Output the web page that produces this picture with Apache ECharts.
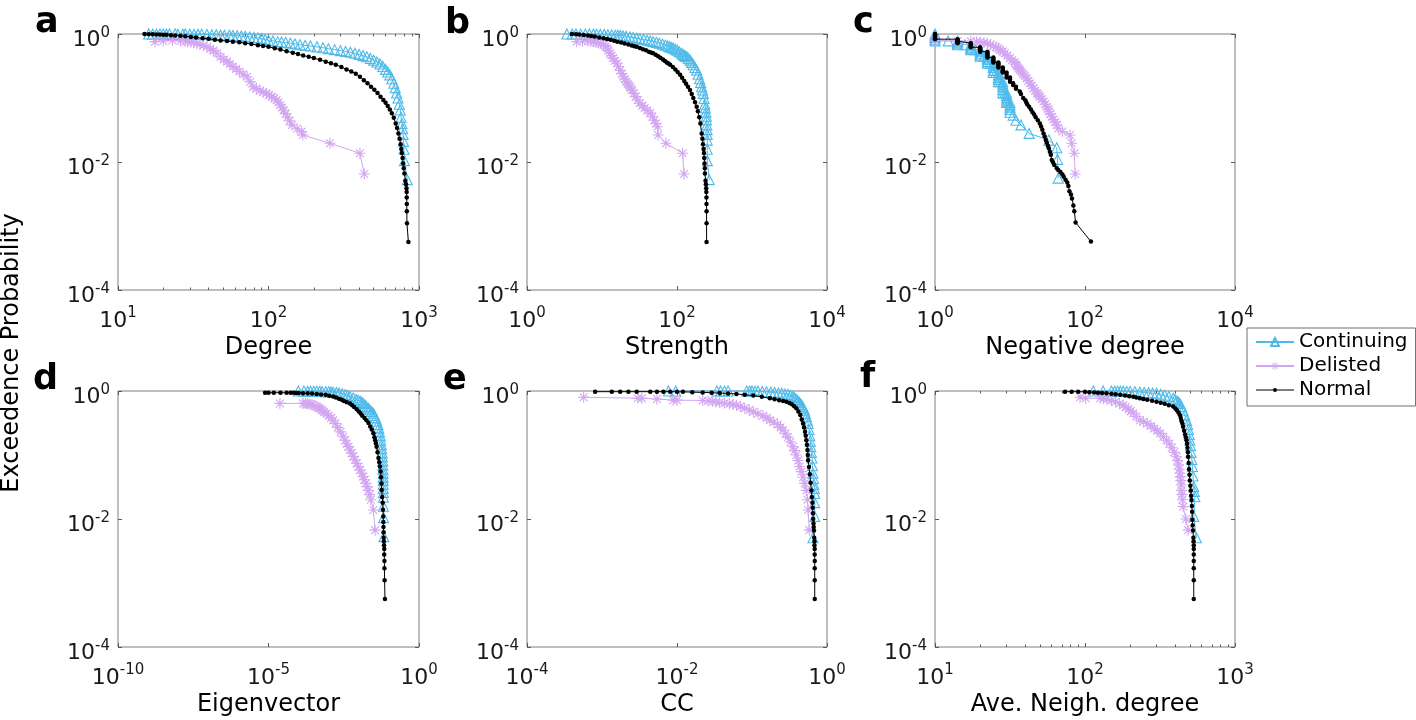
<!DOCTYPE html>
<html><head><meta charset="utf-8">
<script src="https://cdn.jsdelivr.net/npm/echarts@6/dist/echarts.min.js"></script>
<style>html,body{margin:0;padding:0;background:#fff}#c{width:1416px;height:720px}</style>
</head><body><div id="c"></div>
<script>
// ---------------- DATA ----------------
const seriesNames = ['Continuing', 'Delisted', 'Normal'];
const yTicks = [1e-4, 1e-2, 1];

// a: Degree
const degreeTicks = [10, 100, 1000];
const degreeMinor = [20,30,40,50,60,70,80,90,200,300,400,500,600,700,800,900];
const degreeContinuing = [[16,1.0],[17,0.99],[18,0.99],[19,1.0],[20,1.0],[21,0.99],[22,1.0],[24,1.0],[25,0.99],[27,0.99],[28,1.0],[30,0.99],[32,0.98],[34,0.99],[36,0.99],[39,0.98],[42,0.97],[45,0.97],[48,0.96],[51,0.96],[55,0.96],[58,0.95],[62,0.94],[66,0.93],[70,0.92],[75,0.9],[80,0.88],[85,0.87],[90,0.85],[95,0.82],[100,0.8],[107,0.78],[115,0.76],[122,0.75],[130,0.74],[140,0.72],[150,0.7],[162,0.68],[175,0.66],[190,0.65],[210,0.63],[230,0.61],[250,0.59],[275,0.57],[300,0.55],[325,0.535],[350,0.52],[375,0.5],[400,0.48],[425,0.46],[450,0.44],[475,0.415],[500,0.39],[525,0.365],[550,0.34],[575,0.31],[600,0.28],[620,0.255],[640,0.23],[660,0.2],[680,0.17],[695,0.145],[710,0.12],[725,0.1],[740,0.08],[750,0.065],[760,0.05],[770,0.04],[780,0.033],[785,0.027],[790,0.021],[795,0.0158],[800,0.0105],[836,0.0053]];
const degreeDelisted = [[17.6,0.76],[20,0.78],[23,0.79],[26,0.78],[28,0.77],[29,0.76],[30.5,0.75],[32,0.73],[33.5,0.71],[35,0.69],[37,0.66],[39,0.63],[41,0.59],[43,0.55],[45.5,0.5],[48,0.44],[50.5,0.4],[53,0.37],[55.5,0.34],[58,0.31],[61,0.285],[64,0.26],[68,0.235],[72,0.215],[75.5,0.18],[79,0.15],[83,0.14],[88,0.13],[92,0.124],[97,0.118],[101,0.111],[105,0.105],[109,0.099],[113,0.093],[116.5,0.085],[120,0.078],[123,0.071],[126,0.065],[130,0.057],[134,0.05],[138,0.044],[143,0.038],[155,0.033],[166,0.0298],[169,0.0264],[256,0.0196],[405,0.0137],[433,0.0065]];
const degreeNormal = [[15,1.0],[16,0.995],[17,0.99],[18,0.985],[19,0.98],[20,0.975],[21,0.97],[22.5,0.96],[24,0.95],[26,0.935],[28,0.92],[30.5,0.9],[33,0.88],[36.5,0.86],[40,0.84],[44,0.815],[48,0.79],[53,0.775],[58,0.76],[64,0.74],[70,0.72],[77,0.695],[85,0.67],[92,0.65],[100,0.63],[110,0.6],[120,0.57],[132,0.54],[145,0.51],[157,0.485],[170,0.46],[185,0.44],[200,0.42],[220,0.395],[240,0.37],[260,0.35],[280,0.33],[305,0.305],[330,0.28],[355,0.26],[380,0.24],[405,0.215],[430,0.19],[455,0.17],[480,0.15],[505,0.135],[530,0.12],[555,0.105],[580,0.093],[600,0.084],[620,0.075],[640,0.066],[660,0.058],[680,0.049],[700,0.04],[715,0.034],[730,0.028],[743,0.023],[755,0.019],[763,0.016],[770,0.0138],[778,0.0115],[785,0.0095],[792,0.008],[800,0.0066],[812,0.0051],[820,0.0045],[826,0.0039],[828,0.0034],[829,0.0028],[830,0.0022],[830,0.0017],[832,0.0011],[850,0.00056]];

// b: Strength
const strengthTicks = [1, 100, 10000];
const strengthContinuing = [[3.4,1.0],[4,1.0],[4.5,1.0],[5.2,0.99],[6,0.99],[6.8,1.0],[7.7,1.0],[8.5,0.99],[9.5,0.98],[10.7,0.98],[12,0.97],[13.5,0.965],[15,0.96],[16.2,0.955],[17.5,0.95],[19,0.935],[21,0.92],[23.5,0.9],[26,0.88],[29,0.86],[32,0.84],[36,0.82],[40,0.8],[44,0.78],[48,0.76],[53,0.74],[58,0.72],[64,0.695],[70,0.67],[75,0.65],[80,0.63],[85,0.615],[89,0.6],[95,0.58],[100,0.56],[107,0.53],[115,0.5],[120,0.48],[125,0.46],[130,0.45],[135,0.44],[142,0.415],[150,0.39],[157,0.36],[165,0.33],[174,0.3],[183,0.274],[191,0.235],[200,0.2],[207,0.175],[213,0.15],[219,0.133],[224,0.118],[230,0.098],[235,0.08],[239,0.07],[243,0.06],[246,0.052],[248,0.0455],[250,0.038],[252,0.032],[253,0.027],[253,0.022],[253,0.0158],[254,0.0105],[269,0.0053]];
const strengthDelisted = [[4.6,0.76],[5.5,0.77],[6.5,0.78],[7.1,0.77],[7.7,0.76],[8.3,0.745],[9,0.73],[9.7,0.71],[10.5,0.68],[11.1,0.64],[11.7,0.6],[12.2,0.55],[12.8,0.5],[13.4,0.46],[14,0.42],[14.8,0.38],[15.8,0.35],[16.6,0.31],[17.5,0.27],[18.4,0.24],[19.3,0.215],[20.1,0.197],[21,0.18],[22,0.167],[23,0.155],[24,0.144],[25,0.133],[26.5,0.118],[28,0.105],[30,0.093],[32,0.083],[34.5,0.076],[37,0.07],[40,0.064],[44,0.058],[47,0.051],[50,0.045],[52.5,0.04],[55,0.0356],[56,0.0264],[71,0.0196],[119,0.0137],[124,0.0065]];
const strengthNormal = [[3.97,1.0],[4.5,0.99],[5,0.98],[5.7,0.965],[6.5,0.95],[7.2,0.93],[8,0.91],[9.2,0.885],[10.5,0.86],[11.7,0.835],[13,0.81],[14.5,0.785],[16,0.76],[18,0.735],[20,0.71],[22.5,0.685],[25,0.66],[27,0.645],[29,0.63],[32,0.605],[35,0.58],[38.5,0.555],[42,0.53],[45,0.515],[48,0.5],[52,0.475],[56,0.45],[60,0.425],[65,0.4],[69,0.38],[73,0.36],[77,0.345],[81,0.33],[88,0.305],[95,0.28],[102,0.255],[110,0.23],[117,0.207],[125,0.185],[132,0.167],[140,0.15],[149,0.133],[157,0.115],[165,0.1],[174,0.086],[183,0.073],[190,0.062],[198,0.05],[205,0.04],[213,0.028],[218,0.023],[222,0.019],[226,0.016],[229,0.0138],[231,0.0115],[233,0.0095],[235,0.008],[236,0.0066],[240,0.0051],[243,0.0045],[245,0.0039],[246,0.0034],[247,0.0028],[247.5,0.0022],[248,0.0017],[248,0.0011],[248,0.00056]];

// c: Negative degree
const negDegreeTicks = [1, 100, 10000];
const negDegreeContinuing = [[1,1.0],[1,0.94],[1,0.88],[1,0.83],[1,0.78],[1.5,0.78],[2,0.78],[2,0.75],[2,0.72],[2,0.68],[2.5,0.68],[3,0.68],[3,0.65],[3,0.62],[3,0.6],[3,0.57],[3.5,0.57],[4,0.57],[4,0.54],[4,0.5],[4,0.47],[4,0.45],[4.5,0.45],[5,0.45],[5,0.42],[5,0.4],[5,0.37],[5,0.35],[5.5,0.35],[6,0.35],[6,0.32],[6,0.3],[6,0.27],[6,0.25],[6.5,0.25],[7,0.25],[7,0.23],[7,0.21],[7,0.195],[7,0.18],[7.5,0.18],[8,0.18],[8,0.165],[8,0.15],[8,0.135],[8,0.12],[8.5,0.12],[9,0.12],[9,0.11],[9,0.1],[9,0.092],[9,0.085],[9.5,0.085],[10,0.085],[10,0.078],[10,0.072],[10,0.066],[10,0.06],[11,0.054],[12,0.045],[14,0.038],[18,0.028],[33,0.022],[42,0.0167],[43,0.011],[44,0.0056]];
const negDegreeDelisted = [[1,0.8],[2,0.78],[3,0.77],[3.6,0.76],[4,0.75],[4.5,0.73],[5,0.715],[5.5,0.68],[6,0.65],[6.5,0.625],[7,0.6],[7.4,0.56],[8,0.53],[8.5,0.5],[9.2,0.46],[10,0.42],[10.7,0.39],[11.5,0.36],[12,0.335],[12.5,0.31],[13,0.29],[13.6,0.274],[14.3,0.255],[15,0.235],[15.8,0.22],[16.7,0.203],[17.6,0.185],[18.5,0.17],[19.5,0.155],[20.5,0.142],[21.7,0.13],[23,0.12],[24,0.112],[25,0.105],[26.5,0.096],[28,0.088],[29.5,0.08],[31,0.073],[32,0.067],[33,0.062],[34.5,0.056],[36,0.051],[38,0.046],[40,0.042],[42,0.038],[44,0.0336],[50,0.03],[63,0.0264],[66.5,0.0196],[72,0.0137],[74,0.0065]];
const negDegreeNormal = [[1,1.0],[1,0.95],[1,0.9],[1,0.86],[1,0.83],[2,0.83],[2,0.8],[2,0.77],[2,0.745],[2,0.72],[3,0.72],[3,0.695],[3,0.67],[3,0.645],[3,0.62],[4,0.62],[4,0.595],[4,0.57],[4,0.55],[4,0.53],[5,0.53],[5,0.505],[5,0.48],[5,0.455],[5,0.43],[6,0.43],[6,0.41],[6,0.39],[6,0.375],[6,0.36],[7,0.36],[7,0.345],[7,0.33],[7,0.315],[7,0.3],[8,0.3],[8,0.285],[8,0.27],[8,0.26],[8,0.25],[9,0.25],[9,0.23],[9,0.21],[10,0.21],[10,0.195],[10,0.18],[11,0.17],[11,0.16],[12,0.15],[12,0.14],[13.5,0.126],[14,0.115],[15,0.1],[16,0.092],[16.5,0.085],[17,0.079],[18,0.073],[19,0.066],[20,0.06],[21,0.055],[22,0.05],[23.5,0.045],[25,0.04],[26,0.036],[27,0.032],[28,0.028],[29,0.025],[30,0.022],[31,0.02],[32,0.018],[33,0.0164],[34,0.0145],[35,0.013],[36,0.0107],[37.5,0.0098],[39,0.009],[42,0.008],[44,0.0075],[47,0.007],[50,0.0064],[52,0.0059],[55,0.0053],[58,0.0048],[60,0.0042],[62,0.0035],[65,0.0031],[67,0.0027],[70,0.0021],[72,0.0017],[75,0.00113],[120,0.00057]];

// d: Eigenvector
const eigenTicks = [1e-10, 1e-5, 1];
const eigenContinuing = [[9.8e-5,1.0],[1.5e-4,1.0],[2e-4,0.995],[2.5e-4,0.99],[3.2e-4,0.99],[4e-4,0.99],[5e-4,0.985],[6e-4,0.98],[8e-4,0.975],[1e-3,0.97],[1.2e-3,0.965],[1.4e-3,0.96],[1.8e-3,0.945],[2.2e-3,0.93],[2.8e-3,0.905],[3.5e-3,0.88],[4.2e-3,0.85],[5.1e-3,0.82],[6.5e-3,0.78],[8e-3,0.74],[9.5e-3,0.715],[1.1e-2,0.69],[1.25e-2,0.665],[1.4e-2,0.64],[1.6e-2,0.605],[1.8e-2,0.57],[2.05e-2,0.54],[2.3e-2,0.51],[2.65e-2,0.48],[3.05e-2,0.45],[3.3e-2,0.415],[3.6e-2,0.38],[3.95e-2,0.34],[4.3e-2,0.3],[4.6e-2,0.265],[4.9e-2,0.23],[5.15e-2,0.2],[5.4e-2,0.17],[5.6e-2,0.145],[5.8e-2,0.125],[6e-2,0.108],[6.1e-2,0.094],[6.2e-2,0.081],[6.3e-2,0.07],[6.35e-2,0.06],[6.4e-2,0.052],[6.45e-2,0.045],[6.5e-2,0.04],[6.5e-2,0.035],[6.5e-2,0.03],[6.55e-2,0.026],[6.6e-2,0.022],[6.6e-2,0.0158],[6.7e-2,0.0105],[6.8e-2,0.0053]];
const eigenDelisted = [[2.4e-5,0.64],[1.4e-4,0.64],[1.7e-4,0.635],[2e-4,0.63],[2.4e-4,0.62],[2.8e-4,0.61],[3.4e-4,0.59],[4e-4,0.57],[4.7e-4,0.545],[5.5e-4,0.52],[6.2e-4,0.495],[7e-4,0.47],[8.5e-4,0.44],[1e-3,0.41],[1.2e-3,0.38],[1.4e-3,0.35],[1.7e-3,0.31],[2e-3,0.27],[2.5e-3,0.23],[3.05e-3,0.193],[3.5e-3,0.17],[4e-3,0.15],[4.5e-3,0.135],[5.1e-3,0.12],[5.8e-3,0.107],[6.5e-3,0.095],[7.5e-3,0.084],[8.5e-3,0.074],[9.7e-3,0.066],[1.1e-2,0.058],[1.25e-2,0.052],[1.4e-2,0.046],[1.55e-2,0.041],[1.7e-2,0.036],[1.9e-2,0.032],[2.07e-2,0.028],[2.3e-2,0.024],[2.5e-2,0.02],[3.05e-2,0.0138],[3.47e-2,0.0067]];
const eigenNormal = [[7.7e-6,0.94],[1e-5,0.94],[1.5e-5,0.94],[2.5e-5,0.94],[4e-5,0.94],[5.5e-5,0.937],[7e-5,0.935],[8.5e-5,0.933],[1e-4,0.93],[1.4e-4,0.925],[2e-4,0.92],[2.8e-4,0.91],[4e-4,0.9],[5.6e-4,0.885],[8e-4,0.87],[1.05e-3,0.845],[1.4e-3,0.82],[1.75e-3,0.79],[2.2e-3,0.76],[2.7e-3,0.73],[3.2e-3,0.7],[4e-3,0.67],[5.1e-3,0.64],[6e-3,0.6],[7e-3,0.56],[8.5e-3,0.52],[1e-2,0.48],[1.15e-2,0.445],[1.3e-2,0.41],[1.55e-2,0.38],[1.8e-2,0.35],[2.1e-2,0.315],[2.4e-2,0.28],[2.7e-2,0.25],[3.05e-2,0.218],[3.3e-2,0.19],[3.5e-2,0.17],[3.7e-2,0.152],[3.9e-2,0.135],[4.2e-2,0.11],[4.5e-2,0.09],[4.8e-2,0.077],[5.06e-2,0.066],[5.3e-2,0.055],[5.5e-2,0.045],[5.65e-2,0.036],[5.75e-2,0.0284],[6e-2,0.022],[6.2e-2,0.018],[6.35e-2,0.014],[6.5e-2,0.0109],[6.55e-2,0.009],[6.6e-2,0.0075],[6.65e-2,0.0062],[6.7e-2,0.0051],[6.8e-2,0.0045],[6.9e-2,0.0039],[7e-2,0.0034],[7e-2,0.0028],[7.1e-2,0.0022],[7.1e-2,0.0017],[7.2e-2,0.0011],[7.4e-2,0.00056]];

// e: CC
const ccTicks = [1e-4, 1e-2, 1];
const ccContinuing = [[7.7e-3,1.0],[9.6e-3,1.0],[3.4e-2,1.0],[3.8e-2,1.0],[4.3e-2,1.0],[4.8e-2,1.0],[8.5e-2,1.0],[0.093,1.0],[0.1,1.0],[0.11,0.995],[0.12,0.99],[0.137,0.98],[0.156,0.97],[0.178,0.96],[0.2,0.95],[0.225,0.935],[0.25,0.92],[0.275,0.9],[0.3,0.88],[0.325,0.85],[0.35,0.82],[0.37,0.78],[0.39,0.74],[0.41,0.7],[0.43,0.66],[0.45,0.62],[0.47,0.58],[0.485,0.54],[0.5,0.5],[0.515,0.45],[0.53,0.4],[0.545,0.35],[0.56,0.31],[0.575,0.25],[0.59,0.2],[0.6,0.165],[0.61,0.135],[0.62,0.11],[0.63,0.09],[0.64,0.068],[0.65,0.052],[0.66,0.043],[0.67,0.035],[0.68,0.03],[0.686,0.025],[0.686,0.018],[0.686,0.011],[0.65,0.0051]];
const ccDelisted = [[5.7e-4,0.8],[3e-3,0.77],[3.4e-3,0.77],[5.4e-3,0.75],[8.9e-3,0.72],[1e-2,0.72],[2.2e-2,0.71],[2.6e-2,0.7],[3e-2,0.69],[3.3e-2,0.675],[3.7e-2,0.66],[4.3e-2,0.645],[5e-2,0.63],[5.6e-2,0.615],[6.2e-2,0.6],[7e-2,0.57],[8e-2,0.54],[9.2e-2,0.505],[0.104,0.475],[0.12,0.44],[0.14,0.41],[0.157,0.38],[0.173,0.35],[0.195,0.325],[0.22,0.3],[0.24,0.27],[0.26,0.246],[0.28,0.215],[0.3,0.19],[0.325,0.16],[0.353,0.135],[0.37,0.117],[0.39,0.1],[0.41,0.082],[0.433,0.066],[0.455,0.055],[0.48,0.045],[0.505,0.036],[0.53,0.028],[0.55,0.02],[0.56,0.0138],[0.58,0.0067]];
const ccNormal = [[8.1e-4,0.976],[1.35e-3,0.976],[1.75e-3,0.976],[2.25e-3,0.976],[2.9e-3,0.976],[4.4e-3,0.976],[5.4e-3,0.976],[6.6e-3,0.976],[8.1e-3,0.975],[1e-2,0.972],[1.2e-2,0.97],[1.6e-2,0.96],[2.2e-2,0.95],[2.9e-2,0.94],[3.7e-2,0.93],[4.8e-2,0.915],[6.2e-2,0.9],[8e-2,0.875],[0.104,0.85],[0.135,0.81],[0.173,0.77],[0.2,0.745],[0.23,0.72],[0.26,0.7],[0.288,0.68],[0.315,0.65],[0.34,0.62],[0.365,0.58],[0.39,0.54],[0.415,0.48],[0.44,0.42],[0.46,0.36],[0.48,0.31],[0.495,0.27],[0.51,0.23],[0.52,0.2],[0.53,0.17],[0.54,0.145],[0.55,0.12],[0.555,0.1],[0.56,0.083],[0.575,0.065],[0.59,0.05],[0.605,0.037],[0.62,0.028],[0.63,0.022],[0.64,0.018],[0.645,0.015],[0.65,0.0123],[0.655,0.01],[0.66,0.0085],[0.665,0.0075],[0.67,0.0066],[0.675,0.0051],[0.68,0.0045],[0.68,0.0039],[0.685,0.0034],[0.685,0.0028],[0.686,0.0022],[0.686,0.0017],[0.686,0.0011],[0.686,0.00056]];

// f: Ave. Neigh. degree
const avgNeighTicks = [10, 100, 1000];
const avgNeighMinor = [20,30,40,50,60,70,80,90,200,300,400,500,600,700,800,900];
const avgNeighContinuing = [[113.6,1.0],[132,1.0],[150,1.0],[158,0.995],[165,0.99],[172,0.99],[180,0.99],[190,0.985],[200,0.98],[215,0.97],[232,0.96],[248,0.95],[265,0.94],[282,0.93],[300,0.92],[320,0.89],[340,0.86],[362,0.82],[387,0.77],[398,0.735],[410,0.7],[420,0.67],[429,0.64],[440,0.57],[450,0.5],[462,0.42],[475,0.35],[483,0.3],[490,0.25],[495,0.21],[500,0.17],[505,0.14],[510,0.11],[515,0.085],[520,0.066],[525,0.047],[531,0.032],[536,0.027],[540,0.0223],[531,0.011],[553,0.0051]];
const avgNeighDelisted = [[92.7,0.8],[101,0.77],[126,0.77],[133,0.755],[140,0.74],[150,0.71],[160,0.68],[170,0.64],[180,0.6],[187,0.56],[195,0.52],[202,0.485],[210,0.45],[220,0.4],[232,0.35],[245,0.33],[260,0.31],[275,0.285],[290,0.26],[303,0.24],[317,0.218],[333,0.193],[350,0.17],[365,0.15],[380,0.13],[394,0.11],[408,0.094],[414,0.082],[420,0.07],[425,0.06],[429,0.052],[432,0.046],[435,0.04],[438,0.034],[440,0.028],[443,0.024],[446,0.02],[451,0.0156],[470,0.01],[487,0.0067]];
const avgNeighNormal = [[73.6,0.976],[81.5,0.976],[90,0.975],[100,0.97],[107,0.96],[115,0.95],[122,0.94],[130,0.93],[139,0.92],[150,0.905],[160,0.89],[172,0.87],[185,0.85],[197,0.83],[210,0.81],[220,0.79],[232,0.77],[245,0.75],[260,0.73],[280,0.705],[300,0.68],[320,0.655],[340,0.63],[362,0.6],[387,0.57],[400,0.535],[410,0.5],[420,0.46],[429,0.42],[435,0.38],[440,0.34],[446,0.31],[451,0.277],[458,0.24],[465,0.21],[470,0.19],[475,0.17],[479,0.15],[482,0.13],[485,0.11],[487,0.094],[491,0.075],[494,0.06],[497,0.049],[500,0.04],[504,0.033],[507,0.028],[510,0.023],[513,0.0198],[516,0.016],[518,0.013],[520,0.0097],[522,0.008],[525,0.0066],[528,0.0051],[530,0.0045],[531,0.0039],[531,0.0034],[531,0.0028],[531,0.0022],[531,0.0017],[531,0.0011],[531,0.00056]];

const panels = [
  {letter:'a', name:'Degree', ticks:degreeTicks, minor:degreeMinor, c:degreeContinuing, d:degreeDelisted, n:degreeNormal},
  {letter:'b', name:'Strength', ticks:strengthTicks, minor:null, c:strengthContinuing, d:strengthDelisted, n:strengthNormal},
  {letter:'c', name:'Negative degree', ticks:negDegreeTicks, minor:null, c:negDegreeContinuing, d:negDegreeDelisted, n:negDegreeNormal},
  {letter:'d', name:'Eigenvector', ticks:eigenTicks, minor:null, c:eigenContinuing, d:eigenDelisted, n:eigenNormal},
  {letter:'e', name:'CC', ticks:ccTicks, minor:null, c:ccContinuing, d:ccDelisted, n:ccNormal},
  {letter:'f', name:'Ave. Neigh. degree', ticks:avgNeighTicks, minor:avgNeighMinor, c:avgNeighContinuing, d:avgNeighDelisted, n:avgNeighNormal}
];

// ---------------- LAYOUT / STYLE ----------------
const FONT = 'DejaVu Sans';
const BLUE = '#4DBAEA';
const LILAC = '#D3A6F2';
const BOX = '#7f7f7f';
const TICK = '#5a5a5a';
const layout = [
  {left:118, top:34, width:301}, {left:527, top:34, width:300}, {left:935, top:34, width:300},
  {left:118, top:391, width:301}, {left:527, top:391, width:300}, {left:935, top:391, width:300}
];
const letterPos = [[35,23],[445,23.5],[853,22.5],[33,379.5],[443,379.5],[860,377.5]];
const PH = 256;
const STAR = 'path://M9 0L11 0L11 20L9 20Z M0 9L20 9L20 11L0 11Z M3.64 2.22L17.78 16.36L16.36 17.78L2.22 3.64Z M17.78 3.64L3.64 17.78L2.22 16.36L16.36 2.22Z';
const NORMAL_ICON = 'path://M0 4.5L38 4.5L38 5.5L0 5.5Z M21 5A2 2 0 1 1 17 5A2 2 0 1 1 21 5Z';

const rich = {
  b: {fontFamily:FONT, fontSize:22, color:'#1a1a1a', lineHeight:26, verticalAlign:'bottom'},
  s: {fontFamily:FONT, fontSize:15, color:'#1a1a1a', lineHeight:12, verticalAlign:'top'}
};
function expLabel(v) {
  const e = Math.round(Math.log10(v));
  return '{b|10}{s|' + e + '}';
}

const grids = [], xAxes = [], yAxes = [], series = [], graphics = [];
panels.forEach((p, i) => {
  const L = layout[i];
  grids.push({left:L.left, top:L.top, width:L.width, height:PH, show:true, borderColor:BOX, borderWidth:1,
              backgroundColor:'rgba(0,0,0,0)', containLabel:false, outerBoundsMode:'none'});
  const mn = p.ticks[0], mx = p.ticks[p.ticks.length - 1];
  const base = {type:'log', logBase:10, gridIndex:i, min:mn, max:mx, splitLine:{show:false},
                axisLine:{show:false}, minorTick:{show:false}, minorSplitLine:{show:false}};
  const xi = xAxes.length;
  xAxes.push(Object.assign({}, base, {
    position:'bottom',
    axisTick:{show:true, inside:true, length:4, customValues:p.ticks, lineStyle:{color:TICK, width:1}},
    axisLabel:{show:true, customValues:p.ticks, formatter:expLabel, rich:rich, margin:16, hideOverlap:false},
    name:p.name, nameLocation:'middle', nameGap:46,
    nameTextStyle:{fontFamily:FONT, fontSize:24, color:'#000', lineHeight:24}
  }));
  const tickOnly = (pos, vals, len) => Object.assign({}, base, {
    position:pos, axisLabel:{show:false},
    axisTick:{show:true, inside:true, length:len, customValues:vals, lineStyle:{color:TICK, width:1}}
  });
  xAxes.push(tickOnly('top', p.ticks, 4));
  if (p.minor) { xAxes.push(tickOnly('bottom', p.minor, 2.5)); xAxes.push(tickOnly('top', p.minor, 2.5)); }
  const yi = yAxes.length;
  const ybase = {type:'log', logBase:10, gridIndex:i, min:1e-4, max:1, splitLine:{show:false},
                 axisLine:{show:false}, minorTick:{show:false}};
  yAxes.push(Object.assign({}, ybase, {
    position:'left',
    axisTick:{show:true, inside:true, length:4, customValues:yTicks, lineStyle:{color:TICK, width:1}},
    axisLabel:{show:true, customValues:yTicks, formatter:expLabel, rich:rich, margin:8, align:'right', padding:[9,0,0,0], hideOverlap:false}
  }));
  yAxes.push(Object.assign({}, ybase, {
    position:'right', axisLabel:{show:false},
    axisTick:{show:true, inside:true, length:4, customValues:yTicks, lineStyle:{color:TICK, width:1}}
  }));
  const common = {type:'line', xAxisIndex:xi, yAxisIndex:yi, clip:false, animation:false,
                  emphasis:{disabled:true}, showSymbol:true};
  series.push(Object.assign({}, common, {name:'Continuing', data:p.c, symbol:'triangle', symbolSize:10, z:2,
    itemStyle:{color:'rgba(255,255,255,0)', borderColor:BLUE, borderWidth:1.1}, lineStyle:{color:BLUE, width:1}}));
  series.push(Object.assign({}, common, {name:'Delisted', data:p.d, symbol:STAR, symbolSize:11, z:3,
    itemStyle:{color:LILAC}, lineStyle:{color:LILAC, width:1}}));
  series.push(Object.assign({}, common, {name:'Normal', data:p.n, symbol:'circle', symbolSize:4.5, z:4,
    itemStyle:{color:'#000'}, lineStyle:{color:'#000', width:1}}));
  graphics.push({type:'text', x:letterPos[i][0], y:letterPos[i][1],
    style:{text:p.letter, font:'bold 35px "DejaVu Sans"', fill:'#000', textAlign:'left', verticalAlign:'middle', textVerticalAlign:'middle'}});
});

graphics.push({type:'text', x:11.5, y:353, rotation:Math.PI/2,
  style:{text:'Exceedence Probability', font:'24px "DejaVu Sans"', fill:'#000', textAlign:'center', verticalAlign:'middle', textVerticalAlign:'middle'}});

const chart = echarts.init(document.getElementById('c'), null, {renderer:'canvas', width:1416, height:720});
chart.setOption({
  animation:false,
  backgroundColor:'#fff',
  textStyle:{fontFamily:FONT},
  grid:grids, xAxis:xAxes, yAxis:yAxes, series:series,
  legend:{show:true, left:1247, top:328, orient:'vertical', selectedMode:false,
    data:[{name:seriesNames[0]}, {name:seriesNames[1]}, {name:seriesNames[2], icon:NORMAL_ICON, itemStyle:{color:'#000', borderWidth:0}}],
    itemWidth:38, itemHeight:10, itemGap:4, padding:[4,8,6,8], borderColor:'#6e6e6e', borderWidth:1,
    backgroundColor:'#fff', textStyle:{fontFamily:FONT, fontSize:20, color:'#000', lineHeight:20}},
  graphic:graphics
});
</script></body></html>
